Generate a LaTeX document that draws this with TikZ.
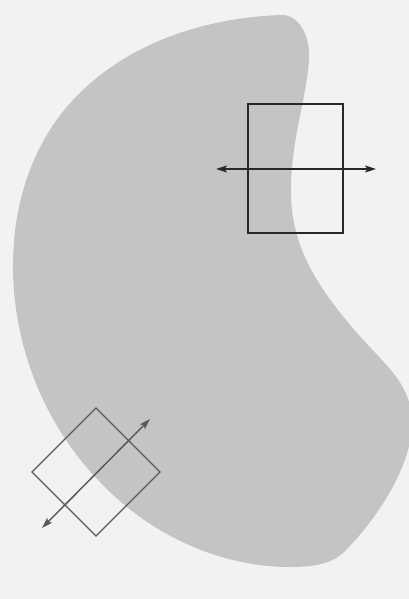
\documentclass[tikz,border=0pt]{standalone}
\usetikzlibrary{arrows.meta}
\begin{document}
\definecolor{bgcol}{RGB}{242,242,240}
\definecolor{blobcol}{RGB}{196,196,196}
\definecolor{framecol}{RGB}{40,40,40}
\definecolor{diacol}{RGB}{90,90,90}
\tikzset{
  frame/.style={draw=framecol, line width=1.3pt, minimum width=95pt, minimum height=129pt, inner sep=0pt, outer sep=0pt},
  diaframe/.style={draw=diacol, line width=1.3pt, minimum size=90.5pt, inner sep=0pt, outer sep=0pt, rotate=45},
  twoway/.style={line width=1.5pt, {Stealth[length=11pt,width=7pt,inset=2.5pt]}-{Stealth[length=11pt,width=7pt,inset=2.5pt]}},
}
\begin{tikzpicture}[x=1pt,y=-1pt]
\fill[bgcol] (0,0) rectangle (409,599);
\useasboundingbox (0,0) rectangle (409,599);
% bean shape
\fill[blobcol] (281,15)
  .. controls (298,14) and (310,35) .. (309,57)
  .. controls (308,95) and (290,140) .. (291,195)
  .. controls (292,250) and (320,290) .. (357,333)
  .. controls (390,370) and (412,385) .. (412,425)
  .. controls (411,465) and (380,515) .. (347,549)
  .. controls (335,562) and (320,567) .. (290,567)
  .. controls (220,567) and (150,535) .. (100,482)
  .. controls (35,415) and (12,330) .. (13,262)
  .. controls (14,190) and (40,130) .. (83,90)
  .. controls (130,45) and (200,18) .. (281,15) -- cycle;
% upper rectangle with horizontal arrow
\node[frame] (rect) at (295.5,168.5) {};
\coordinate (aL) at (216,169);
\coordinate (aR) at (376,169);
\draw[twoway, draw=framecol, fill=framecol] (aL) -- (aR);
% lower diamond with diagonal arrow
\node[diaframe] (dia) at (96,472) {};
\coordinate (bL) at (42,528);
\coordinate (bR) at (150,419);
\draw[twoway, draw=diacol, fill=diacol] (bL) -- (bR);
\end{tikzpicture}
\end{document}
